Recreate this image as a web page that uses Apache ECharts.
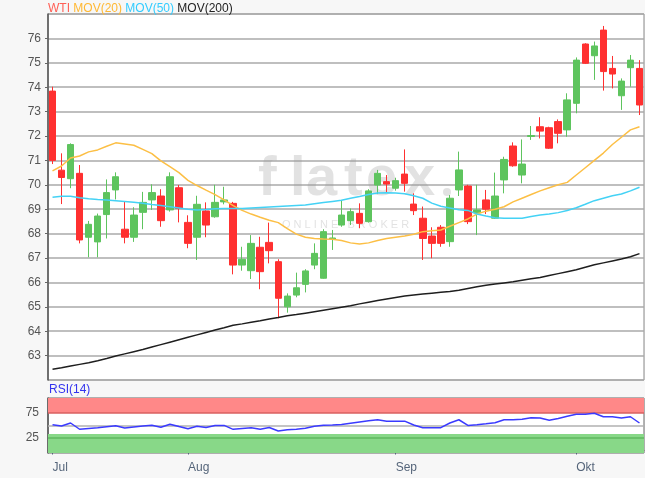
<!DOCTYPE html>
<html>
<head>
<meta charset="utf-8">
<script src="https://cdn.jsdelivr.net/npm/echarts@6/dist/echarts.min.js"></script>
<style>
html,body{margin:0;padding:0;background:#f7f7f7;}
#c{width:645px;height:478px;}
</style>
</head>
<body>
<div id="c"></div>
<script>
const categories = [
'2018-07-11','2018-07-12','2018-07-13','2018-07-16','2018-07-17','2018-07-18','2018-07-19','2018-07-20','2018-07-23','2018-07-24','2018-07-25','2018-07-26','2018-07-27','2018-07-30','2018-07-31',
'2018-08-01','2018-08-02','2018-08-03','2018-08-06','2018-08-07','2018-08-08','2018-08-09','2018-08-10','2018-08-13','2018-08-14','2018-08-15','2018-08-16','2018-08-17','2018-08-20','2018-08-21','2018-08-22','2018-08-23','2018-08-24','2018-08-27','2018-08-28','2018-08-29','2018-08-30','2018-08-31',
'2018-09-03','2018-09-04','2018-09-05','2018-09-06','2018-09-07','2018-09-10','2018-09-11','2018-09-12','2018-09-13','2018-09-14','2018-09-17','2018-09-18','2018-09-19','2018-09-20','2018-09-21','2018-09-24','2018-09-25','2018-09-26','2018-09-27','2018-09-28',
'2018-10-01','2018-10-02','2018-10-03','2018-10-04','2018-10-05','2018-10-08','2018-10-09','2018-10-10'];

const monthNames = {'07':'Jul','08':'Aug','09':'Sep','10':'Okt'};

const openV  = [73.84,70.60,70.25,70.47,67.85,67.66,68.78,69.79,68.18,67.85,68.87,69.38,69.54,68.97,69.88,
68.46,67.85,68.93,68.69,69.30,69.24,66.71,66.48,67.44,67.64,66.85,65.00,65.48,65.92,66.71,66.17,67.78,68.35,68.53,68.83,68.49,69.99,70.13,
69.86,70.44,69.21,68.63,67.90,68.26,67.67,69.79,69.95,68.85,69.38,68.63,70.20,71.59,70.40,71.98,72.38,72.34,72.59,72.25,
73.34,75.77,75.29,76.34,74.77,73.65,74.80,74.77];
const closeV = [71.00,70.30,71.65,67.74,68.38,68.72,69.68,70.33,67.85,68.76,69.28,69.68,68.53,70.33,69.03,
67.60,69.20,68.35,69.28,69.38,66.71,66.95,67.60,66.44,67.30,65.35,65.44,65.78,66.47,67.19,68.08,67.82,68.76,68.90,68.42,69.75,70.47,70.03,
70.17,70.06,68.94,67.80,67.60,67.60,69.45,70.61,68.49,68.97,69.00,69.54,71.04,70.78,70.85,72.02,72.20,71.50,72.11,73.48,
75.11,74.98,75.69,74.64,74.54,74.25,75.11,73.27];
const lowV   = [70.85,69.21,69.86,67.60,67.03,67.03,67.80,69.40,67.60,67.66,68.18,68.97,68.28,68.90,68.46,
67.40,66.92,67.85,68.65,69.20,66.33,66.48,66.14,65.72,66.78,64.53,64.76,65.39,65.59,66.54,66.15,67.33,68.28,68.35,68.22,68.45,69.62,69.68,
69.76,69.72,68.76,66.92,66.99,67.46,67.46,69.54,68.39,67.94,68.80,68.60,69.65,70.74,70.06,71.84,71.90,71.47,71.70,71.97,
72.93,74.95,74.30,73.86,73.95,73.07,74.02,72.86];
const highV  = [74.02,71.29,71.70,70.81,68.52,68.82,70.22,70.51,69.31,69.08,69.71,70.02,69.82,70.51,69.99,
68.75,69.55,69.28,70.00,69.92,69.30,67.46,67.94,67.87,68.45,66.95,65.55,66.40,66.54,67.60,68.18,68.15,69.38,69.03,69.24,69.82,70.61,70.40,
70.29,71.45,69.65,69.11,68.26,68.35,69.58,71.36,70.00,70.00,69.79,70.50,71.15,71.74,71.86,72.41,72.77,72.38,72.68,73.75,
75.22,75.80,75.87,76.51,75.28,74.36,75.32,75.11];

const mov20 = [70.57,70.77,71.10,71.18,71.35,71.43,71.58,71.72,71.67,71.62,71.45,71.28,70.98,70.74,70.50,
70.18,69.97,69.78,69.60,69.38,69.15,68.95,68.80,68.67,68.55,68.45,68.20,67.98,67.85,67.80,67.78,67.77,67.72,67.62,67.57,67.62,67.72,67.80,
67.85,67.90,67.97,68.08,68.12,68.15,68.30,68.45,68.60,68.80,68.92,69.00,69.10,69.30,69.45,69.60,69.75,69.88,70.00,70.10,
70.40,70.70,71.00,71.30,71.65,71.95,72.25,72.38];
const mov50 = [69.49,69.53,69.53,69.47,69.43,69.40,69.38,69.35,69.32,69.28,69.24,69.19,69.15,69.10,69.05,
69.00,68.97,68.99,69.02,69.03,69.03,69.03,69.05,69.07,69.09,69.11,69.13,69.15,69.17,69.22,69.27,69.32,69.37,69.45,69.52,69.60,69.66,69.67,
69.66,69.63,69.55,69.45,69.25,69.12,69.05,68.98,68.95,68.80,68.72,68.65,68.63,68.63,68.63,68.70,68.76,68.80,68.86,68.95,
69.06,69.20,69.35,69.45,69.55,69.62,69.75,69.90];
const mov200 = [62.44,62.50,62.57,62.64,62.71,62.79,62.88,62.98,63.07,63.16,63.25,63.35,63.45,63.55,63.65,
63.75,63.85,63.95,64.05,64.14,64.24,64.30,64.37,64.43,64.50,64.56,64.63,64.68,64.74,64.80,64.86,64.92,64.98,65.04,65.12,65.19,65.26,65.32,
65.38,65.44,65.48,65.52,65.56,65.60,65.63,65.68,65.75,65.82,65.88,65.93,65.98,66.03,66.09,66.15,66.20,66.28,66.36,66.44,
66.52,66.62,66.72,66.80,66.88,66.96,67.05,67.18];
const rsi14 = [51.5,49,55,42.5,44,45.5,47.5,49.5,45,47,49,50.7,46.5,52.5,48,
43.6,48.5,46.2,50,50.2,42.3,44,45.3,42.5,46,39,41.5,42.5,44.5,48.5,50.5,51,52,54.5,57,59.5,61.5,58.7,
58.7,58.7,51,45.6,45.6,45.6,55,61.5,50.2,51.6,53.5,55.5,61.5,61.5,62.5,65.5,64.8,60.7,64.1,68.5,
72.6,72.6,74.6,67.5,67.5,64.8,67.5,55];

const rsiLevels = [25, 50, 75];

const candles = categories.map((d, i) => [openV[i], closeV[i], lowV[i], highV[i]]);

const FONT = 'Liberation Sans, Arial, sans-serif';
const isMonthStart = (idx) => idx === 0 || categories[idx - 1].slice(5, 7) !== categories[idx].slice(5, 7);

const wmColor = 'rgba(150,150,150,0.28)';
const wmLetters = ['f','l','a','t','e','x'];
const wmX = [258, 290, 306, 344, 366, 404];
const watermark = wmLetters.map((ch, k) => ({
  type: 'text', left: wmX[k], top: 152, z: 1,
  style: {text: ch, fill: wmColor, font: 'bold 56px ' + FONT}
}));

const chart = echarts.init(document.getElementById('c'), null, {renderer: 'canvas'});
chart.setOption({
  backgroundColor: '#f7f7f7',
  animation: false,
  textStyle: {fontFamily: FONT},
  graphic: [
    {type: 'text', left: 48, top: 3, z: 10, style: {
      text: '{a|WTI} {b|MOV(20)} {c|MOV(50)} {d|MOV(200)}',
      font: '12px ' + FONT,
      rich: {
        a: {fill: '#ff5f55', fontSize: 12, fontFamily: FONT},
        b: {fill: '#ffb833', fontSize: 12, fontFamily: FONT},
        c: {fill: '#33ccff', fontSize: 12, fontFamily: FONT},
        d: {fill: '#222222', fontSize: 12, fontFamily: FONT}
      }
    }},
    {type: 'text', left: 49, top: 384, z: 10, style: {text: 'RSI(14)', fill: '#3333ee', font: '12px ' + FONT}},
    ...watermark,
    {type: 'circle', shape: {cx: 447, cy: 192, r: 4}, z: 1, style: {fill: wmColor}},
    {type: 'text', left: 282, top: 219, z: 1, style: {text: 'O N L I N E   B R O K E R', fill: wmColor, font: '11px ' + FONT}}
  ],
  grid: [
    {left: 48, top: 14, width: 596, height: 366, show: true, backgroundColor: '#ffffff', borderColor: '#888', borderWidth: 1},
    {left: 48, top: 398, width: 596, height: 55, show: true, backgroundColor: '#ffffff', borderColor: '#666', borderWidth: 1}
  ],
  xAxis: [
    {type: 'category', gridIndex: 0, data: categories, boundaryGap: true,
     axisLine: {show: false}, axisTick: {show: false}, axisLabel: {show: false}, splitLine: {show: false}},
    {type: 'category', gridIndex: 1, data: categories, boundaryGap: true,
     axisLine: {show: true, lineStyle: {color: '#666'}},
     axisTick: {show: true, alignWithLabel: true, length: 4, interval: (idx) => isMonthStart(idx), lineStyle: {color: '#55657a'}},
     axisLabel: {show: true, interval: (idx) => isMonthStart(idx), align: 'left', margin: 9,
       color: '#55657a', fontSize: 12, fontFamily: FONT,
       formatter: (v) => monthNames[v.slice(5, 7)]},
     splitLine: {show: false}}
  ],
  yAxis: [
    {type: 'value', gridIndex: 0, min: 62, max: 77, interval: 1, scale: true,
     axisLine: {show: true, lineStyle: {color: '#555', width: 1.5}},
     axisTick: {show: true, length: 3, lineStyle: {color: '#666'}},
     axisLabel: {color: '#555', fontSize: 12, fontFamily: FONT, margin: 7, showMinLabel: false, showMaxLabel: false},
     splitLine: {show: true, lineStyle: {color: '#aaaaaa', width: 1.5}}},
    {type: 'value', gridIndex: 1, min: -5, max: 105, interval: 5,
     axisLine: {show: true, lineStyle: {color: '#555', width: 1.5}},
     axisTick: {show: false},
     axisLabel: {color: '#555', fontSize: 12, fontFamily: FONT, margin: 9,
       formatter: (v) => (v === rsiLevels[0] || v === rsiLevels[2]) ? String(v) : ''},
     splitLine: {show: false}}
  ],
  series: [
    {type: 'candlestick', name: 'WTI', xAxisIndex: 0, yAxisIndex: 0, data: candles, barWidth: 7, z: 3,
     itemStyle: {color: '#5ec45e', color0: '#ff3030', borderColor: '#5ec45e', borderColor0: '#ff3030', borderWidth: 1}},
    {type: 'line', name: 'MOV(20)', xAxisIndex: 0, yAxisIndex: 0, data: mov20, symbol: 'none', z: 4,
     lineStyle: {color: '#fcbf45', width: 1.5}},
    {type: 'line', name: 'MOV(50)', xAxisIndex: 0, yAxisIndex: 0, data: mov50, symbol: 'none', z: 4,
     lineStyle: {color: '#44d2f5', width: 1.5}},
    {type: 'line', name: 'MOV(200)', xAxisIndex: 0, yAxisIndex: 0, data: mov200, symbol: 'none', z: 4,
     lineStyle: {color: '#1e1e1e', width: 1.5}},
    {type: 'line', name: 'RSI(14)', xAxisIndex: 1, yAxisIndex: 1, data: rsi14, symbol: 'none', z: 5,
     lineStyle: {color: '#3a3aff', width: 1.5},
     markArea: {silent: true, data: [
       [{yAxis: 75, itemStyle: {color: '#ff8888'}}, {yAxis: 105}],
       [{yAxis: -5, itemStyle: {color: '#88d888'}}, {yAxis: 33}]
     ]},
     markLine: {silent: true, symbol: 'none', label: {show: false}, data: [
       {yAxis: rsiLevels[2], lineStyle: {color: '#d96060', width: 1.5, type: 'solid'}},
       {yAxis: rsiLevels[1], lineStyle: {color: '#b0b0b0', width: 1.5, type: 'solid'}},
       {yAxis: rsiLevels[0], lineStyle: {color: '#5fb85f', width: 1.5, type: 'solid'}}
     ]}}
  ]
});
</script>
</body>
</html>
